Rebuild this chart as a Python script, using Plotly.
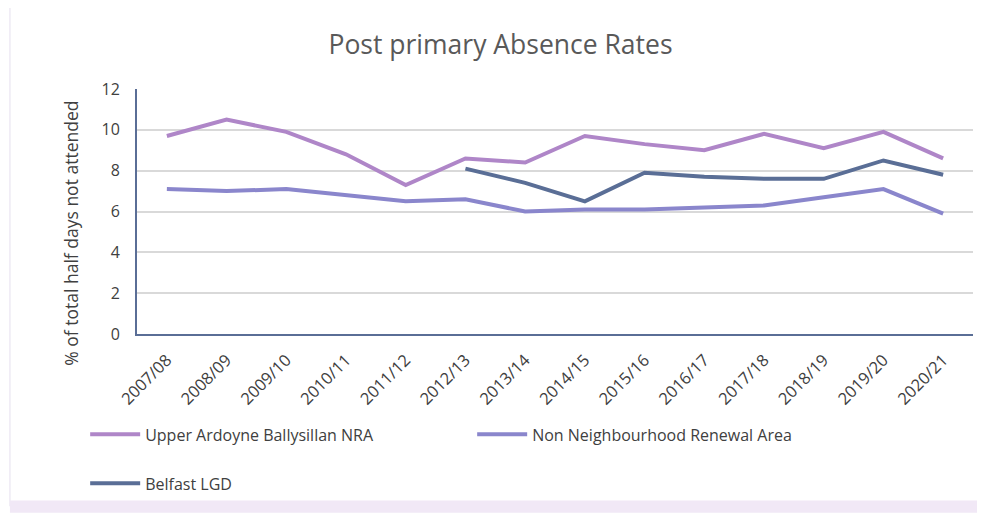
import plotly.graph_objects as go

years = ["2007/08", "2008/09", "2009/10", "2010/11", "2011/12", "2012/13", "2013/14",
         "2014/15", "2015/16", "2016/17", "2017/18", "2018/19", "2019/20", "2020/21"]
upper_ardoyne = [9.7, 10.5, 9.9, 8.8, 7.3, 8.6, 8.4, 9.7, 9.3, 9.0, 9.8, 9.1, 9.9, 8.6]
non_nra = [7.1, 7.0, 7.1, 6.8, 6.5, 6.6, 6.0, 6.1, 6.1, 6.2, 6.3, 6.7, 7.1, 5.9]
belfast = [None, None, None, None, None, 8.1, 7.4, 6.5, 7.9, 7.7, 7.6, 7.6, 8.5, 7.8]

font = "Open Sans, sans-serif"

fig = go.Figure()
fig.add_trace(go.Scatter(x=years, y=upper_ardoyne, mode="lines", name="Upper Ardoyne Ballysillan NRA",
                         line=dict(color="#AF86C8", width=4), legend="legend"))
fig.add_trace(go.Scatter(x=years, y=non_nra, mode="lines", name="Non Neighbourhood Renewal Area",
                         line=dict(color="#8A86CC", width=4), legend="legend"))
fig.add_trace(go.Scatter(x=years, y=belfast, mode="lines", name="Belfast LGD",
                         line=dict(color="#5A6E96", width=4), legend="legend2"))

# page body adds an 8px offset, margins compensate for it
fig.update_layout(
    width=985, height=513,
    margin=dict(l=129, r=20, t=81, b=187),
    paper_bgcolor="white", plot_bgcolor="white",
    title=dict(text="Post primary Absence Rates", x=0.5, xanchor="center", y=0.928, yanchor="middle",
               font=dict(family=font, size=26.5, color="#595959")),
    font=dict(family=font, color="#595959"),
    legend=dict(orientation="h", x=-0.062, y=-0.41, xanchor="left", yanchor="middle",
                entrywidth=322, entrywidthmode="pixels", font=dict(size=16, color="#404040"),
                itemwidth=50, bgcolor="rgba(0,0,0,0)"),
    legend2=dict(orientation="h", x=-0.062, y=-0.61, xanchor="left", yanchor="middle",
                 font=dict(size=16, color="#404040"), itemwidth=50, bgcolor="rgba(0,0,0,0)"),
    annotations=[dict(text="% of total half days not attended", textangle=-90,
                      xref="paper", yref="paper", x=-0.08, y=0.41,
                      xanchor="center", yanchor="middle", showarrow=False,
                      font=dict(family=font, size=17.5, color="#404040"))],
    shapes=[
        dict(type="rect", xref="paper", yref="paper", x0=-0.152, x1=1.03, y0=-0.7, y1=1.335,
             line=dict(color="#EEEAF4", width=1.5), layer="below"),
        dict(type="rect", xref="paper", yref="paper", x0=-0.152, x1=1.03, y0=-0.73, y1=-0.68,
             fillcolor="#F1E8F6", line=dict(width=0), layer="below"),
    ],
)

fig.update_xaxes(
    type="category", range=[-0.5, 13.5], tickangle=-45, tickfont=dict(size=16.5, color="#404040"),
    ticklabelstandoff=8,
    showline=True, linecolor="#5A6E96", linewidth=2, showgrid=False, ticks="",
)
fig.update_yaxes(
    range=[0, 12], dtick=2, tickfont=dict(size=16, color="#404040"), ticklabelstandoff=12,
    showline=True, linecolor="#5A6E96", linewidth=2,
    showgrid=True, gridcolor="#D9D9D9", gridwidth=2, zeroline=False, ticks="",
)

fig.write_html("out.html")
